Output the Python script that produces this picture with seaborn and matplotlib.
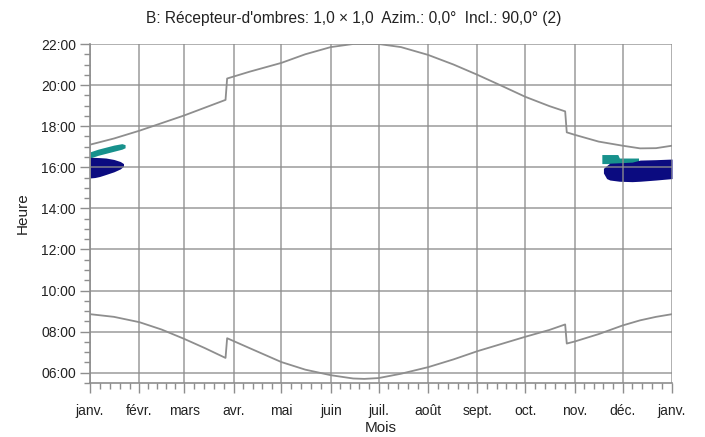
import numpy as np
import pandas as pd
import matplotlib
matplotlib.use("Agg")
import matplotlib.pyplot as plt
from matplotlib import font_manager
from matplotlib.ticker import FixedLocator, MultipleLocator, FuncFormatter
import seaborn as sns

# month axis (day of year at each month start)
month_labels = ["janv.", "févr.", "mars", "avr.", "mai", "juin", "juil.",
                "août", "sept.", "oct.", "nov.", "déc.", "janv."]
month_start = [0, 31, 59, 90, 120, 151, 181, 212, 243, 273, 304, 334, 365]

# sunrise / sunset (hours, local time)
sun_day = [0, 15, 31, 45, 59, 72, 85, 86, 100, 120, 135, 151, 165, 172, 181,
           195, 212, 228, 243, 258, 273, 288, 298, 299, 304, 319, 334, 345, 355, 365]
sunset = [17.10, 17.40, 17.78, 18.15, 18.52, 18.90, 19.28, 20.32, 20.65, 21.08,
          21.50, 21.85, 22.00, 22.00, 22.00, 21.85, 21.47, 21.00, 20.50, 19.97,
          19.43, 18.98, 18.72, 17.70, 17.58, 17.25, 17.05, 16.92, 16.93, 17.05]
sunrise = [8.85, 8.72, 8.46, 8.10, 7.65, 7.20, 6.72, 7.68, 7.20, 6.52,
           6.15, 5.88, 5.72, 5.70, 5.74, 5.95, 6.27, 6.65, 7.05, 7.40,
           7.75, 8.08, 8.35, 7.42, 7.52, 7.88, 8.30, 8.55, 8.72, 8.85]

# shadow periods, turbine 1 (navy) and turbine 2 (teal)
navy_jan_day = [0, 3, 6, 10, 15, 19, 21]
navy_jan_lo = [15.48, 15.50, 15.55, 15.65, 15.78, 15.92, 16.05]
navy_jan_hi = [16.48, 16.48, 16.47, 16.45, 16.38, 16.28, 16.18]

teal_jan_day = [0, 5, 10, 15, 20, 22]
teal_jan_lo = [16.45, 16.58, 16.68, 16.78, 16.88, 16.95]
teal_jan_hi = [16.75, 16.88, 16.98, 17.08, 17.15, 17.10]

navy_dec_day = [322, 324, 326, 332, 340, 345, 355, 365]
navy_dec_lo = [15.72, 15.45, 15.38, 15.32, 15.30, 15.32, 15.38, 15.45]
navy_dec_hi = [15.95, 16.08, 16.20, 16.22, 16.25, 16.35, 16.37, 16.40]

teal_dec_day = [321, 331, 332, 344]
teal_dec_lo = [16.18, 16.18, 16.12, 16.12]
teal_dec_hi = [16.62, 16.62, 16.45, 16.45]

sns.set_theme(style="ticks")
plt.rcParams["font.family"] = ["Liberation Sans", "DejaVu Sans"]

# narrow face for the title if it is there
names = {f.name for f in font_manager.fontManager.ttflist}
if "Liberation Sans Narrow" in names:
    title_font, title_size = ["Liberation Sans Narrow", "DejaVu Sans"], 13.5
else:
    title_font, title_size = ["Liberation Sans", "DejaVu Sans"], 11.2

grey = "#8e8e8e"
navy = "#0b0b80"
teal = "#17918c"
txt = "#222222"

fig = plt.figure(figsize=(7.05, 4.37), dpi=100)
ax = fig.add_axes([90 / 705, 1 - 383 / 437, 582 / 705, 339 / 437])

# shadow blobs
ax.fill_between(teal_jan_day, teal_jan_lo, teal_jan_hi, color=teal, lw=0, zorder=1)
ax.fill_between(teal_dec_day, teal_dec_lo, teal_dec_hi, color=teal, lw=0, zorder=1)
ax.fill_between(navy_jan_day, navy_jan_lo, navy_jan_hi, color=navy, lw=0, zorder=1.1)
ax.fill_between(navy_dec_day, navy_dec_lo, navy_dec_hi, color=navy, lw=0, zorder=1.1)

sun = pd.DataFrame({"day": sun_day, "sunrise": sunrise, "sunset": sunset})
sns.lineplot(data=sun, x="day", y="sunset", ax=ax, color=grey, lw=1.3,
             estimator=None, sort=False)
sns.lineplot(data=sun, x="day", y="sunrise", ax=ax, color=grey, lw=1.3,
             estimator=None, sort=False)

ax.set_xlim(0, 365)
ax.set_ylim(5.5, 22)

# ticks
ax.xaxis.set_major_locator(FixedLocator(month_start))
ax.set_xticklabels(month_labels)
minor_x = []
for a, b in zip(month_start[:-1], month_start[1:]):
    minor_x += [a + k * (b - a) / 5 for k in range(1, 5)]
ax.xaxis.set_minor_locator(FixedLocator(minor_x))
ax.set_yticks(np.arange(6, 23, 2))
ax.yaxis.set_minor_locator(MultipleLocator(0.5))
ax.yaxis.set_major_formatter(FuncFormatter(lambda v, p: f"{int(v):02d}:00"))

ax.tick_params(which="major", direction="out", length=7, width=1, color=grey,
               labelsize=10, labelcolor=txt, pad=3)
ax.tick_params(axis="x", which="major", pad=8)
ax.tick_params(which="minor", direction="out", length=4, width=1, color=grey)

ax.set_axisbelow(False)
ax.grid(True, which="major", color=grey, lw=1.3, alpha=0.75)

sns.despine(ax=ax)
for s in ["left", "bottom"]:
    ax.spines[s].set_color(grey)
    ax.spines[s].set_linewidth(1.2)

ax.set_xlabel("Mois", fontsize=11, color=txt, labelpad=2)
ax.set_ylabel("Heure", fontsize=11, color=txt, labelpad=8)
fig.suptitle("B: Récepteur-d'ombres: 1,0 × 1,0  Azim.: 0,0°  Incl.: 90,0° (2)",
             x=354 / 705, y=1 - 18 / 437, va="center", fontsize=title_size,
             color=txt, family=title_font)

fig.savefig("out.png", dpi=100)
